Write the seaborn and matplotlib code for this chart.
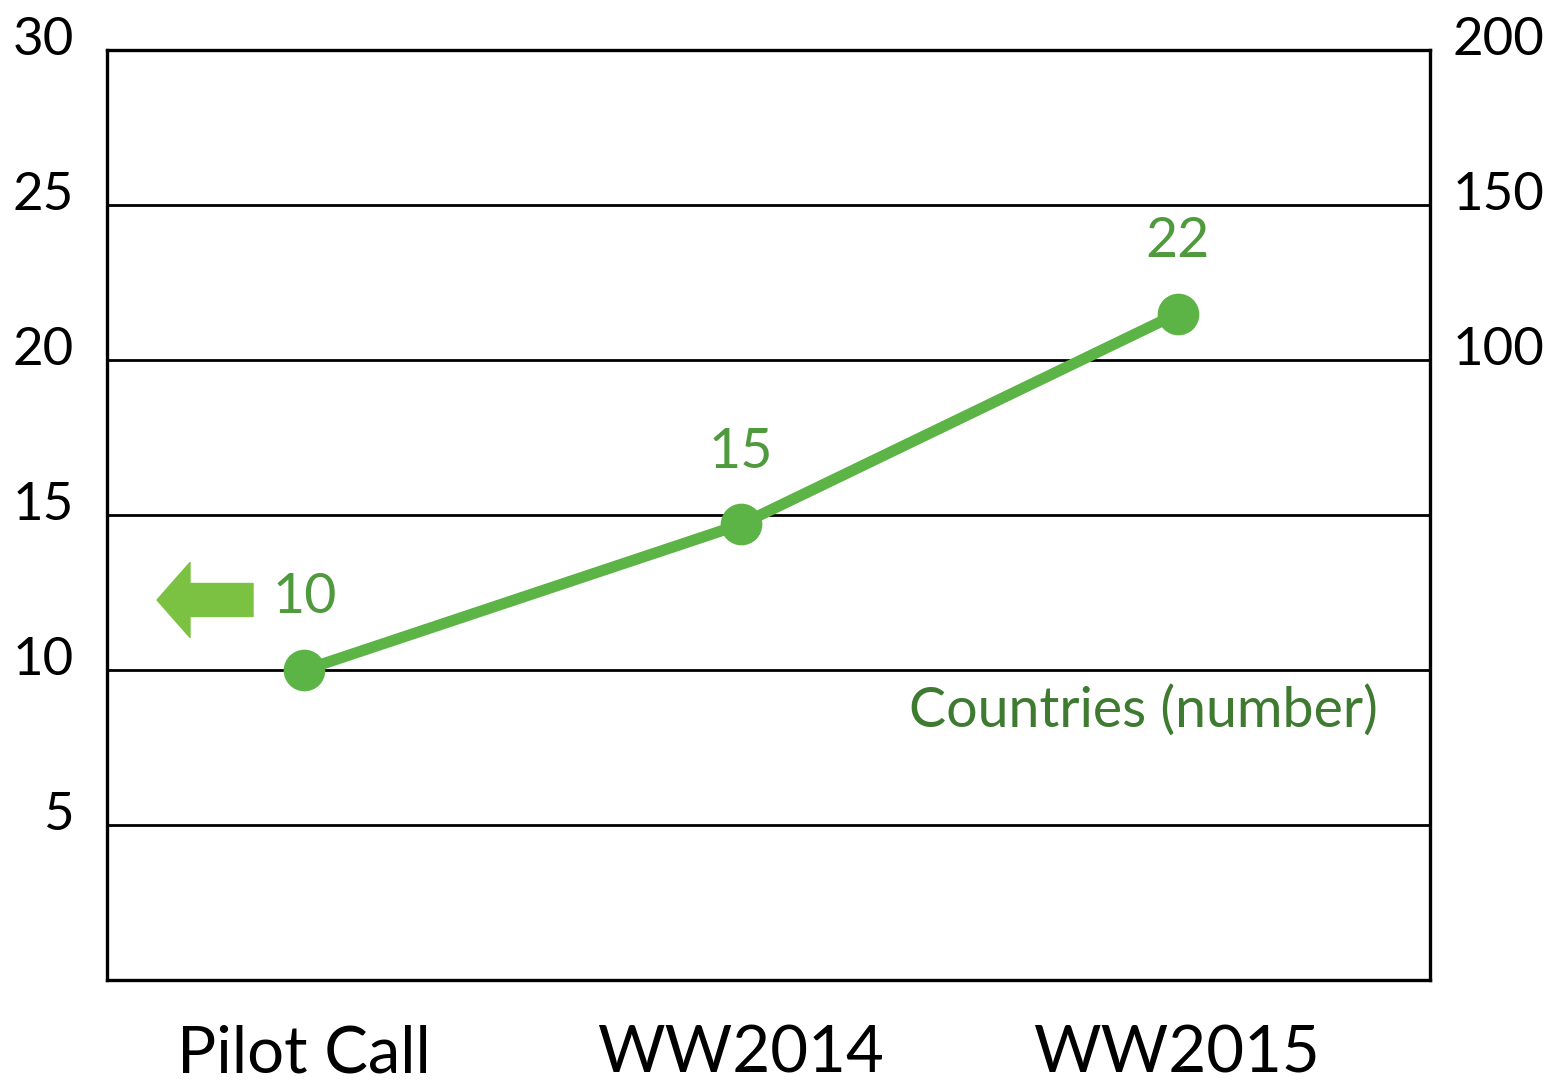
import matplotlib
matplotlib.use('Agg')
import matplotlib.pyplot as plt
import matplotlib.transforms as mtransforms
import seaborn as sns
import pandas as pd

# data
calls = ['Pilot Call', 'WW2014', 'WW2015']
countries = [10, 14.7, 21.5]
count_labels = ['10', '15', '22']
left_ticks = [5, 10, 15, 20, 25, 30]
right_ticks = [100, 150, 200]

df = pd.DataFrame({'call': calls, 'countries': countries})

sns.set_theme(style='white')
plt.rcParams['font.family'] = ['Lato', 'DejaVu Sans']

line_green = '#5cb346'
text_green = '#4f9a3c'
dark_green = '#3f7a31'
arrow_green = '#7cc242'

fig = plt.figure(figsize=(15.64, 10.81), dpi=100)
ax = fig.add_axes([0.0684, 0.0934, 0.8459, 0.8603])

# horizontal grid lines
for t in left_ticks:
    ax.axhline(t, color='black', lw=2.0, zorder=1)

sns.lineplot(data=df, x='call', y='countries', color=line_green, lw=8,
             marker='o', markersize=30, markeredgewidth=0, ax=ax, zorder=3)

# value labels above points
for i, (v, lab) in enumerate(zip(countries, count_labels)):
    ax.annotate(lab, (i, v), xytext=(0, 52), textcoords='offset points',
                ha='center', va='center', fontsize=40, color=text_green)

ax.text(0.961, 0.29, 'Countries (number)', transform=ax.transAxes,
        ha='right', va='center', fontsize=40, color=dark_green)

# arrow pointing to the left axis
ax.annotate('', xy=(157, 1081 - 600), xycoords='figure pixels',
            xytext=(253, 1081 - 600), textcoords='figure pixels',
            arrowprops=dict(arrowstyle='simple,head_length=0.66,head_width=1.5,tail_width=0.66',
                            color=arrow_green, mutation_scale=36, shrinkA=0, shrinkB=0))

ax.set_xlim(-0.452, 2.578)
ax.set_ylim(0, 30)
ax.set_yticks(left_ticks)
ax.set_yticklabels([str(t) for t in left_ticks])
ax.set_xlabel('')
ax.set_ylabel('')
ax.tick_params(axis='y', length=0, pad=24, labelsize=38, colors='black')
ax.tick_params(axis='x', length=0, pad=32, labelsize=47, colors='black')
for s in ax.spines.values():
    s.set_color('black')
    s.set_linewidth(2.4)

# right scale: 100 / 150 / 200 line up with 20 / 25 / 30
ax2 = ax.twinx()
ax2.set_ylim(-100, 200)
ax2.set_yticks(right_ticks)
ax2.set_yticklabels([str(t) for t in right_ticks])
ax2.tick_params(axis='y', length=0, pad=16, labelsize=38, colors='black')
for s in ax2.spines.values():
    s.set_visible(False)

# tick labels sit a little above their grid lines
lift = mtransforms.ScaledTranslation(0, 10 / 72, fig.dpi_scale_trans)
for lab in ax.get_yticklabels() + ax2.get_yticklabels():
    lab.set_transform(lab.get_transform() + lift)

fig.savefig('out.png', dpi=100, facecolor='white')
